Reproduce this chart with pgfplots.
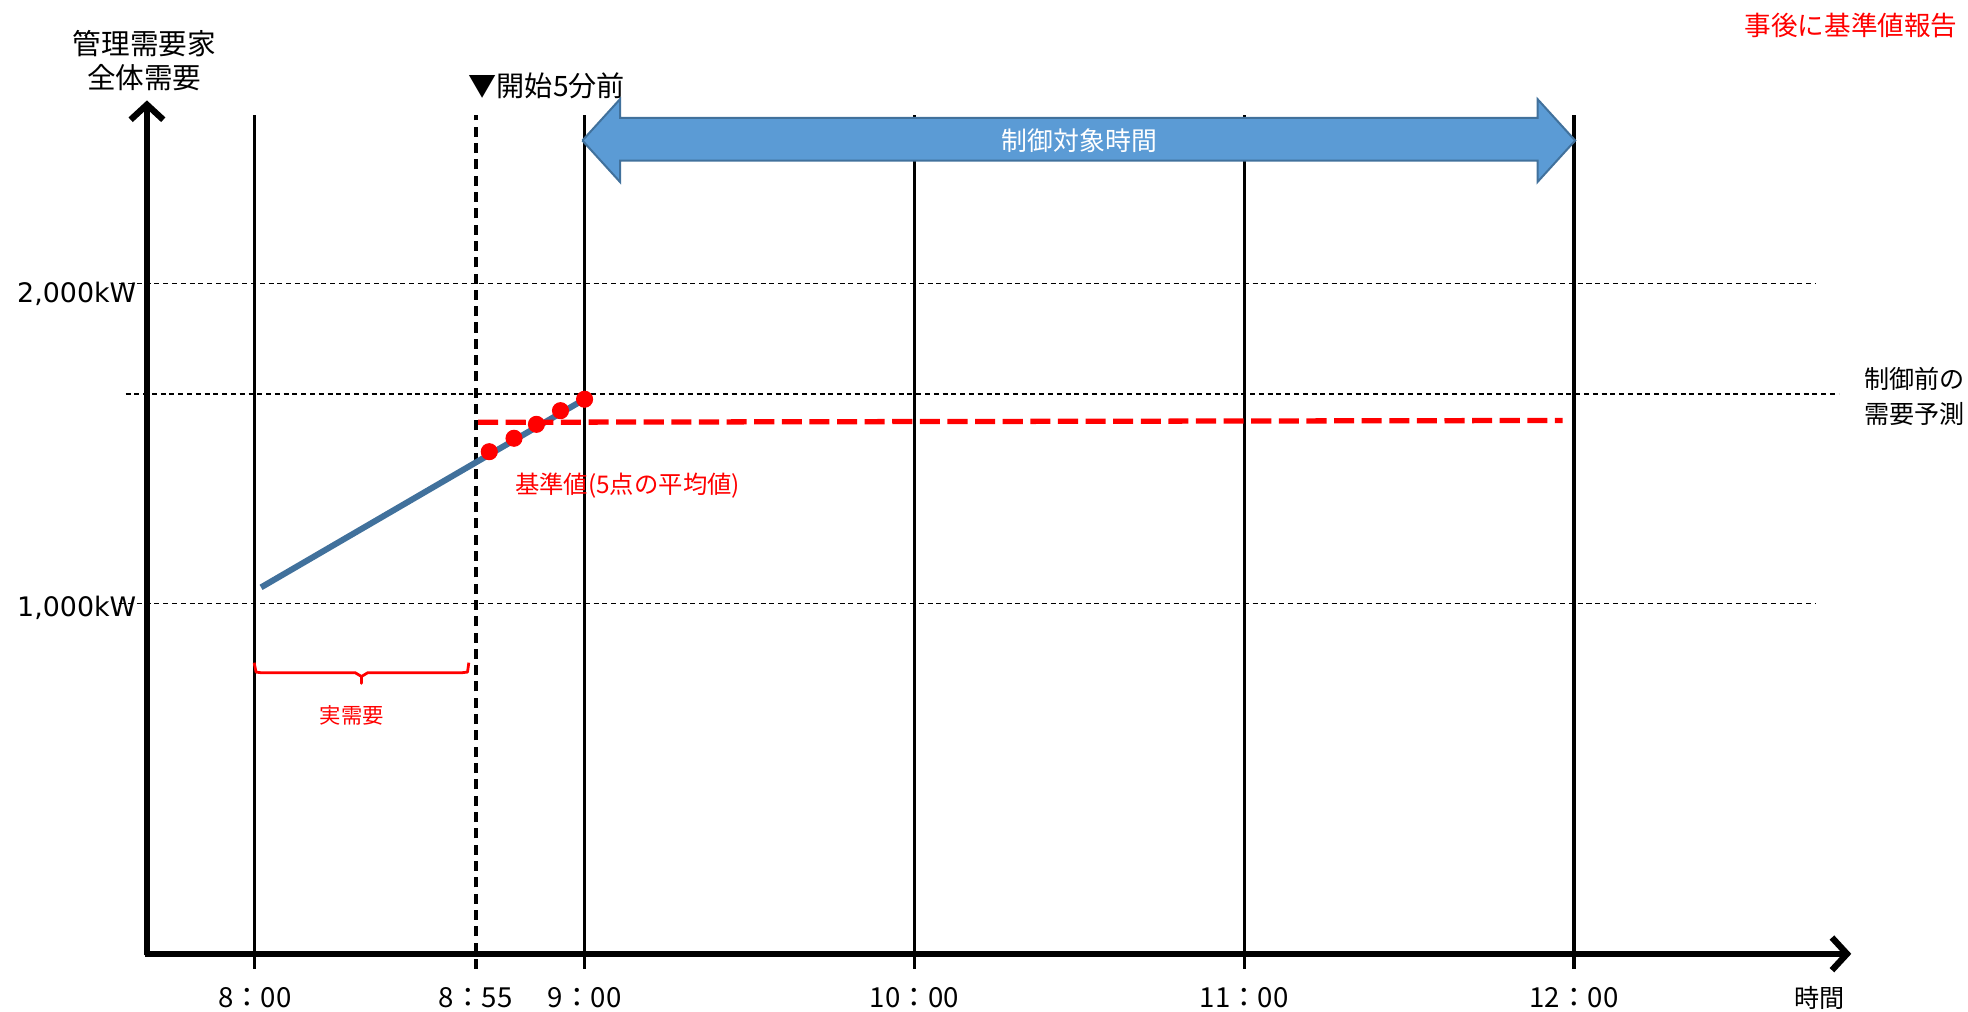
\documentclass[border=0pt]{standalone}
\usepackage{fontspec}
\setmainfont{Noto Sans CJK JP}
\newfontfamily\dejavu{DejaVu Sans}
\usepackage{pgfplots}
\pgfplotsset{compat=1.18}
\usetikzlibrary{arrows.meta}
\definecolor{lineblue}{HTML}{41719C}
\definecolor{fillblue}{HTML}{5B9BD5}
\begin{document}
\begin{tikzpicture}
\begin{axis}[
  scale only axis, width=784pt, height=403pt,
  xmin=7.2274, xmax=13.1950, ymin=-274.5, ymax=2886.3,
  axis lines=none, xtick=\empty, ytick=\empty, clip=false,
]
\path (rel axis cs:0,0) rectangle (rel axis cs:1,1);
% grid lines
\addplot[black, line width=0.5pt, dash pattern=on 2pt off 1.5pt] coordinates {(7.589,2000) (12.734,2000)};
\addplot[black, line width=0.5pt, dash pattern=on 2pt off 1.5pt] coordinates {(7.589,1000) (12.734,1000)};
\addplot[black, line width=0.5pt, dash pattern=on 2pt off 1.5pt] coordinates {(7.608,1654.9) (12.803,1654.9)};
% vertical lines
\addplot[black, line width=1.3pt] coordinates {(8,-141) (8,2525.5)};
\addplot[black, line width=1.3pt] coordinates {(9,-141) (9,2525.5)};
\addplot[black, line width=1.3pt] coordinates {(10,-141) (10,2525.5)};
\addplot[black, line width=1.3pt] coordinates {(11,-141) (11,2525.5)};
\addplot[black, line width=1.3pt] coordinates {(12,-141) (12,2525.5)};
\addplot[black, line width=1.4pt, dash pattern=on 4pt off 2.5pt] coordinates {(8.670,-141) (8.670,2525.5)};
% axes
\addplot[black, line width=2.5pt, -{Straight Barb[length=6pt,width=13pt]}] coordinates {(7.668,-94.1) (12.841,-94.1)};
\addplot[black, line width=2.5pt, -{Straight Barb[length=6pt,width=13pt]}] coordinates {(7.673,-98.5) (7.673,2572.5)};
% blue double arrow
\addplot[draw=lineblue, fill=fillblue, line width=0.8pt, line join=miter] coordinates {(8.9934,2447.1) (9.1075,2576.5) (9.1075,2517.6) (11.8896,2517.6) (11.8896,2576.5) (12.0038,2447.1) (11.8896,2317.6) (11.8896,2384.3) (9.1075,2384.3) (9.1075,2317.6) (8.9934,2447.1)};
\node[text=white, font=\fontsize{10.3}{12}\selectfont] at (axis cs:10.5005,2447) {制御対象時間};
% demand line
\addplot[lineblue, line width=2.4pt] coordinates {(8.019,1051) (9.0,1639)};
% forecast
\addplot[red, line width=2.1pt, dash pattern=on 8pt off 3pt] coordinates {(8.677,1566.7) (11.966,1572.5)};
% points
\addplot[only marks, mark=*, mark size=3.2pt, red] coordinates {(8.711,1474.9) (8.786,1516.9) (8.854,1560.4) (8.927,1603.1) (9.0,1638.8)};
% brace
\addplot[red, line width=1.1pt, line join=round] coordinates {(7.998,815.7) (8.0038,786.3) (8.019,784.3) (8.3045,784.3) (8.3235,772.5) (8.3235,751) (8.3235,772.5) (8.3425,784.3) (8.628,784.3) (8.645,786.3) (8.649,815.7)};
\node[text=red, font=\fontsize{8.5}{10}\selectfont] at (axis cs:8.294,652) {実需要};
% texts
\node[align=center, font=\fontsize{11.4}{13.5}\selectfont, inner sep=0pt] at (axis cs:7.665,2696) {管理需要家\\全体需要};
\node[anchor=west, font=\fontsize{11.2}{13}\selectfont, inner sep=0pt] at (axis cs:8.647,2619.6) {▼開始5分前};
\node[anchor=east, text=red, font=\fontsize{10.6}{12}\selectfont, inner sep=0pt] at (axis cs:13.1646,2807.8) {事後に基準値報告};
\node[anchor=west, align=left, font=\fontsize{10}{14}\selectfont, inner sep=0pt] at (axis cs:12.879,1647) {制御前の\\需要予測};
\node[anchor=west, text=red, font=\fontsize{9.7}{11}\selectfont, inner sep=0pt] at (axis cs:8.788,1368.6) {基準値(5点の平均値)};
\node[anchor=east, font=\dejavu\fontsize{10.7}{12}\selectfont, inner sep=0pt] at (axis cs:7.642,1968.6) {2,000kW};
\node[anchor=east, font=\dejavu\fontsize{10.7}{12}\selectfont, inner sep=0pt] at (axis cs:7.642,988) {1,000kW};
% x labels
\node[font=\fontsize{11}{12}\selectfont, inner sep=0pt] at (axis cs:8,-231.4) {8：00};
\node[font=\fontsize{11}{12}\selectfont, inner sep=0pt] at (axis cs:8.670,-231.4) {8：55};
\node[font=\fontsize{11}{12}\selectfont, inner sep=0pt] at (axis cs:9,-231.4) {9：00};
\node[font=\fontsize{11}{12}\selectfont, inner sep=0pt] at (axis cs:10,-231.4) {10：00};
\node[font=\fontsize{11}{12}\selectfont, inner sep=0pt] at (axis cs:11,-231.4) {11：00};
\node[font=\fontsize{11}{12}\selectfont, inner sep=0pt] at (axis cs:12,-231.4) {12：00};
\node[font=\fontsize{10}{12}\selectfont, inner sep=0pt] at (axis cs:12.746,-231.4) {時間};
\end{axis}
\end{tikzpicture}
\end{document}
